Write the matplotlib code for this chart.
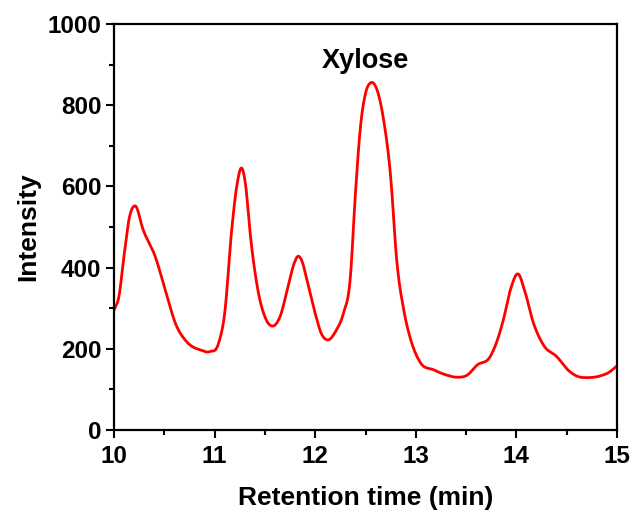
import matplotlib
matplotlib.use("Agg")
import matplotlib.pyplot as plt
import numpy as np
from matplotlib.ticker import MultipleLocator

plt.rcParams['font.family'] = ['Liberation Sans', 'DejaVu Sans']
plt.rcParams['font.weight'] = 'bold'

time_min = [10.00, 10.05, 10.10, 10.15, 10.21, 10.29, 10.41, 10.51, 10.61, 10.72, 10.86, 10.95,
            11.04, 11.10, 11.17, 11.22, 11.27, 11.31, 11.35, 11.43, 11.50, 11.57, 11.65, 11.73,
            11.79, 11.83, 11.87, 11.91, 12.00, 12.06, 12.12, 12.21, 12.28, 12.35, 12.40, 12.45,
            12.50, 12.55, 12.61, 12.68, 12.75, 12.81, 12.88, 12.95, 13.04, 13.18, 13.31, 13.41,
            13.51, 13.61, 13.74, 13.80, 13.87, 13.94, 14.02, 14.08, 14.17, 14.27, 14.40, 14.53,
            14.62, 14.70, 14.83, 14.92, 15.00]
intensity = [295, 330, 430, 520, 552, 493, 427, 345, 263, 218, 197, 193,
             214, 287, 493, 600, 645, 600, 493, 345, 279, 256, 279, 353,
             410, 428, 415, 378, 287, 238, 222, 246, 287, 378, 583, 747,
             829, 855, 841, 764, 624, 419, 296, 222, 168, 148, 135, 130,
             135, 160, 181, 214, 271, 345, 384, 345, 263, 209, 181, 144,
             131, 129, 133, 142, 158]


def smooth_curve(x, y, n=20):
    """Cubic Hermite (Catmull-Rom style) rendering through the given points."""
    x = np.asarray(x, float)
    y = np.asarray(y, float)
    m = np.gradient(y, x)
    xs, ys = [], []
    for i in range(len(x) - 1):
        h = x[i + 1] - x[i]
        t = np.linspace(0, 1, n, endpoint=False)
        h00 = 2 * t**3 - 3 * t**2 + 1
        h10 = t**3 - 2 * t**2 + t
        h01 = -2 * t**3 + 3 * t**2
        h11 = t**3 - t**2
        xs.append(x[i] + t * h)
        ys.append(h00 * y[i] + h10 * h * m[i] + h01 * y[i + 1] + h11 * h * m[i + 1])
    xs.append([x[-1]])
    ys.append([y[-1]])
    return np.concatenate(xs), np.concatenate(ys)


fig = plt.figure(figsize=(6.33, 5.15), dpi=100)
ax = fig.add_axes([114/633, 1 - 430/515, (617-114)/633, (430-24)/515])
sx, sy = smooth_curve(time_min, intensity)
ax.plot(sx, sy, color='#ff0000', lw=2.0, solid_joinstyle='round')

ax.set_xlim(10, 15)
ax.set_ylim(0, 1000)
ax.xaxis.set_major_locator(MultipleLocator(1))
ax.xaxis.set_minor_locator(MultipleLocator(0.5))
ax.yaxis.set_major_locator(MultipleLocator(200))
ax.yaxis.set_minor_locator(MultipleLocator(100))
ax.tick_params(which='major', direction='out', length=6, width=1.5, labelsize=17.5, pad=3)
ax.tick_params(axis='x', which='major', pad=5)
ax.tick_params(which='minor', direction='out', length=3.5, width=1.5)
for s in ax.spines.values():
    s.set_linewidth(1.6)
ax.set_xlabel('Retention time (min)', fontsize=19, fontweight='bold', labelpad=13)
ax.set_ylabel('Intensity', fontsize=19, fontweight='bold', labelpad=5)
ax.text(12.50, 891, 'Xylose', fontsize=19.5, fontweight='bold', ha='center', va='baseline')

fig.savefig('out.png', dpi=100)
